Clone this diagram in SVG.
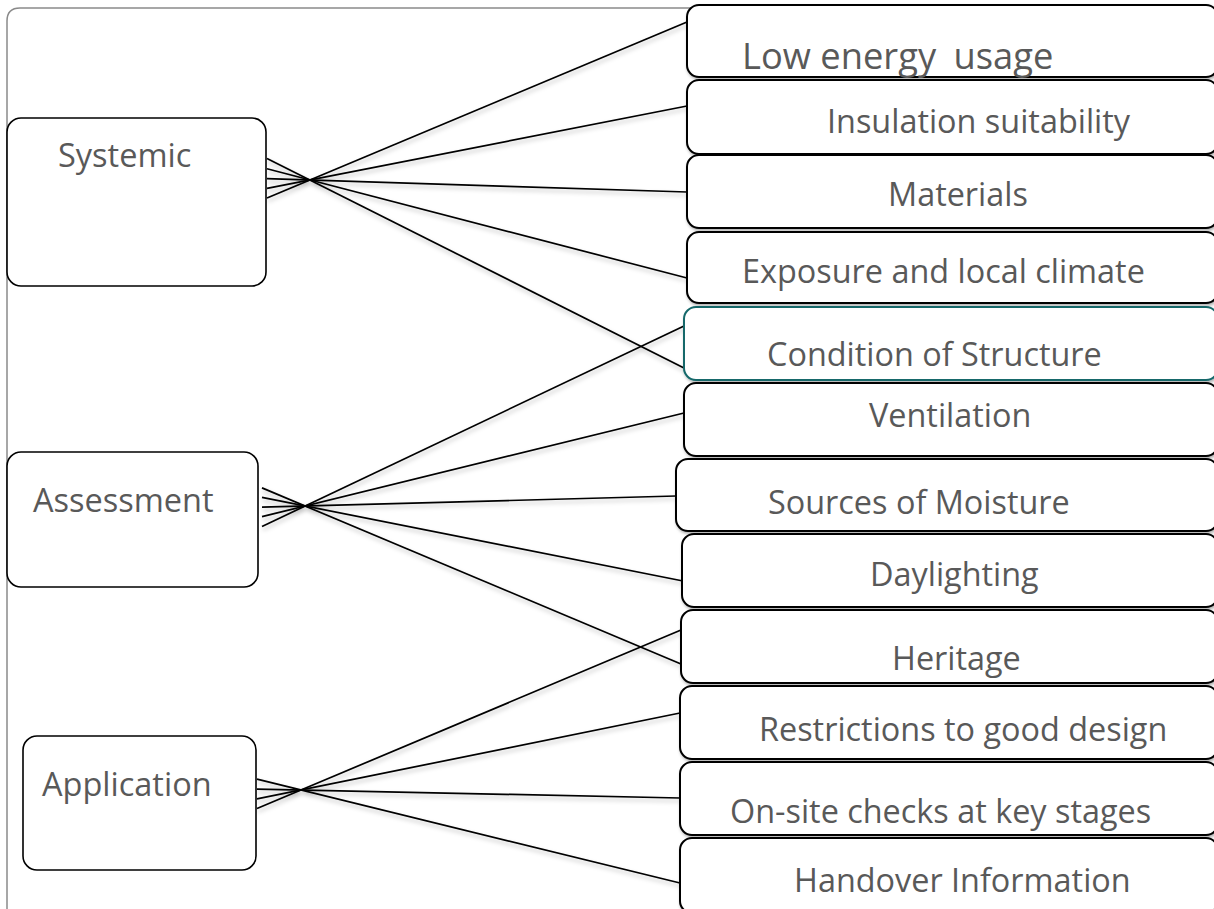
<svg xmlns="http://www.w3.org/2000/svg" width="1214" height="909" viewBox="0 0 1214 909">
  <defs>
    <filter id="sh" x="-10%" y="-20%" width="120%" height="150%">
      <feDropShadow dx="1" dy="2" stdDeviation="1.5" flood-color="#000" flood-opacity="0.3"/>
    </filter>
    <filter id="lsh" x="-10%" y="-20%" width="120%" height="150%">
      <feDropShadow dx="1" dy="3" stdDeviation="2" flood-color="#000" flood-opacity="0.25"/>
    </filter>
    <style>
      .frame { fill: none; stroke: #8a8a8a; stroke-width: 1.5; }
      .lbox { fill: #fff; stroke: #000; stroke-width: 1.6; }
      .rbox { fill: #fff; stroke: #000; stroke-width: 2; filter: url(#sh); }
      .teal { stroke: #14686a; }
      .conn line { stroke: #000; stroke-width: 1.7; fill: none; }
      .lbl { font-family: "Open Sans", "Noto Sans", sans-serif; fill: #595959; font-size: 32.4px; }
      .big { font-size: 36.3px; }
      .left { font-size: 32.5px; }
    </style>
  </defs>
  <rect width="1214" height="909" fill="#fff"/>
  <path class="frame" d="M7,909 V21 Q7,8 20,8 H700"/>

  <g id="connectors" class="conn" filter="url(#lsh)">
    <line x1="267" y1="198.0" x2="687" y2="22"/>
    <line x1="267" y1="188.4" x2="687" y2="106"/>
    <line x1="267" y1="178.6" x2="687" y2="192"/>
    <line x1="267" y1="168.8" x2="687" y2="278"/>
    <line x1="267" y1="158.4" x2="684" y2="368"/>
    <line x1="262" y1="526.5" x2="684" y2="326"/>
    <line x1="262" y1="516.6" x2="684" y2="413"/>
    <line x1="262" y1="507.2" x2="676" y2="496"/>
    <line x1="262" y1="497.4" x2="683" y2="581"/>
    <line x1="262" y1="487.9" x2="681" y2="664"/>
    <line x1="257" y1="808.5" x2="681" y2="630"/>
    <line x1="257" y1="798.9" x2="680" y2="713"/>
    <line x1="257" y1="789.1" x2="680" y2="798"/>
    <line x1="257" y1="779.2" x2="680" y2="883"/>
  </g>

  <g id="systemic">
    <rect class="lbox" x="7" y="118" width="259" height="168" rx="14"/>
    <text class="lbl left" x="58" y="167">Systemic</text>
  </g>
  <g id="assessment">
    <rect class="lbox" x="7" y="452" width="251" height="135" rx="14"/>
    <text class="lbl left" x="33" y="512">Assessment</text>
  </g>
  <g id="application">
    <rect class="lbox" x="23" y="736" width="233" height="134" rx="14"/>
    <text class="lbl left" x="42" y="796">Application</text>
  </g>

  <g id="low-energy">
    <rect class="rbox" x="687" y="5" width="531" height="72" rx="12"/>
    <text class="lbl big" x="742" y="69">Low energy <tspan dx="8">usage</tspan></text>
  </g>
  <g id="insulation">
    <rect class="rbox" x="687" y="80" width="531" height="74" rx="12"/>
    <text class="lbl" x="827" y="133">Insulation suitability</text>
  </g>
  <g id="materials">
    <rect class="rbox" x="687" y="155" width="531" height="73" rx="12"/>
    <text class="lbl" x="888" y="206">Materials</text>
  </g>
  <g id="exposure">
    <rect class="rbox" x="687" y="232" width="531" height="71" rx="12"/>
    <text class="lbl" x="742" y="283">Exposure and local climate</text>
  </g>
  <g id="condition">
    <rect class="rbox teal" x="684" y="307" width="534" height="73" rx="12"/>
    <text class="lbl" x="767" y="366">Condition of Structure</text>
  </g>
  <g id="ventilation">
    <rect class="rbox" x="684" y="383" width="534" height="73" rx="12"/>
    <text class="lbl" x="869" y="427">Ventilation</text>
  </g>
  <g id="sources">
    <rect class="rbox" x="676" y="459" width="542" height="72" rx="12"/>
    <text class="lbl" x="768" y="514">Sources of Moisture</text>
  </g>
  <g id="daylighting">
    <rect class="rbox" x="682" y="534" width="536" height="73" rx="12"/>
    <text class="lbl" x="870" y="586">Daylighting</text>
  </g>
  <g id="heritage">
    <rect class="rbox" x="681" y="610" width="537" height="73" rx="12"/>
    <text class="lbl" x="892" y="670">Heritage</text>
  </g>
  <g id="restrictions">
    <rect class="rbox" x="680" y="686" width="538" height="73" rx="12"/>
    <text class="lbl" x="759" y="741">Restrictions to good design</text>
  </g>
  <g id="onsite">
    <rect class="rbox" x="680" y="762" width="538" height="73" rx="12"/>
    <text class="lbl" x="730" y="823">On-site checks at key stages</text>
  </g>
  <g id="handover">
    <rect class="rbox" x="680" y="838" width="538" height="75" rx="12"/>
    <text class="lbl" x="794" y="892">Handover Information</text>
  </g>
</svg>
